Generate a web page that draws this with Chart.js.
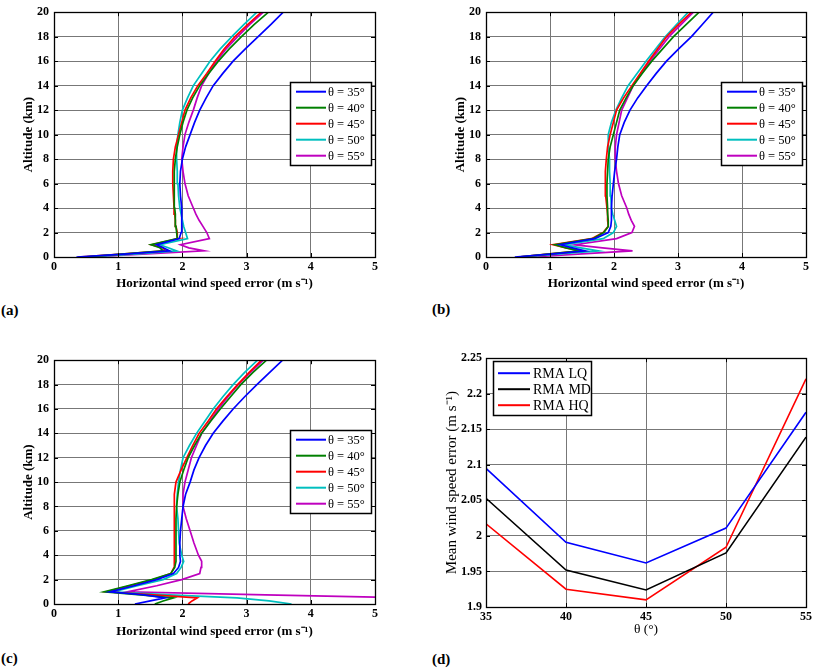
<!DOCTYPE html>
<html>
<head>
<meta charset="utf-8">
<script src="https://cdn.jsdelivr.net/npm/chart.js@4.4.1/dist/chart.umd.min.js"></script>
<style>
  body { margin: 0; background: #fff; }
  #wrap { position: relative; width: 815px; height: 668px; overflow: hidden; background: #fff; }
  canvas { position: absolute; }
  .tag { position: absolute; font: bold 15px 'Liberation Serif', serif; color: #000; }
</style>
</head>
<body>
<div id="wrap">
  <canvas id="cA" width="400" height="300" style="left:0;top:0"></canvas>
  <canvas id="cB" width="383" height="300" style="left:432px;top:0"></canvas>
  <canvas id="cC" width="400" height="300" style="left:0;top:348px"></canvas>
  <canvas id="cD" width="383" height="300" style="left:432px;top:347px"></canvas>
  <div class="tag" style="left:1px;top:302px">(a)</div>
  <div class="tag" style="left:432px;top:301px">(b)</div>
  <div class="tag" style="left:1px;top:650px">(c)</div>
  <div class="tag" style="left:432px;top:651px">(d)</div>
</div>
<script>
// altitude levels (km) shared by all profile panels
var altitudes = [0, 0.25, 0.5, 0.75, 1, 1.5, 2, 2.5, 3, 3.5, 4, 5, 6, 7, 8, 9, 10, 11, 12, 13, 14, 15, 16, 17, 18, 19, 20];
var angleLabels = ['\u03b8 = 35\u00b0', '\u03b8 = 40\u00b0', '\u03b8 = 45\u00b0', '\u03b8 = 50\u00b0', '\u03b8 = 55\u00b0'];

// panel (a) horizontal wind speed error (m/s)
var a35 = [0.35, 1.15, 1.80, 1.70, 1.60, 1.95, 1.98, 1.99, 1.99, 1.99, 1.99, 1.97, 1.96, 1.97, 2.00, 2.05, 2.12, 2.19, 2.27, 2.37, 2.48, 2.63, 2.79, 2.98, 3.18, 3.38, 3.57];
var a40 = [0.45, 1.10, 1.70, 1.65, 1.51, 1.92, 1.91, 1.90, 1.89, 1.89, 1.88, 1.87, 1.87, 1.88, 1.89, 1.92, 1.96, 2.01, 2.07, 2.16, 2.27, 2.41, 2.56, 2.73, 2.92, 3.12, 3.34];
var a45 = [0.38, 1.10, 1.73, 1.70, 1.52, 1.93, 1.92, 1.90, 1.89, 1.88, 1.87, 1.86, 1.85, 1.85, 1.86, 1.89, 1.94, 1.99, 2.04, 2.13, 2.24, 2.38, 2.51, 2.65, 2.82, 3.02, 3.23];
var a50 = [0.50, 1.30, 1.91, 1.78, 1.65, 2.08, 2.05, 2.02, 2.00, 1.98, 1.96, 1.94, 1.93, 1.92, 1.91, 1.91, 1.93, 1.96, 2.00, 2.08, 2.17, 2.30, 2.43, 2.59, 2.77, 2.96, 3.16];
var a55 = [0.55, 1.45, 2.34, 2.10, 1.97, 2.42, 2.38, 2.32, 2.26, 2.21, 2.17, 2.09, 2.04, 2.01, 1.99, 2.01, 2.04, 2.10, 2.17, 2.23, 2.30, 2.41, 2.53, 2.68, 2.86, 3.05, 3.26];

// panel (b)
var b35 = [0.45, 1.05, 1.55, 1.35, 1.16, 1.70, 1.91, 1.95, 1.96, 1.96, 1.96, 1.97, 1.99, 2.01, 2.04, 2.06, 2.09, 2.16, 2.25, 2.37, 2.51, 2.66, 2.82, 3.01, 3.21, 3.38, 3.55];
var b40 = [0.50, 1.00, 1.47, 1.25, 1.08, 1.67, 1.84, 1.91, 1.91, 1.90, 1.90, 1.89, 1.89, 1.90, 1.91, 1.94, 1.99, 2.04, 2.09, 2.19, 2.30, 2.44, 2.59, 2.76, 2.93, 3.13, 3.33];
var b45 = [0.50, 1.00, 1.49, 1.25, 1.05, 1.65, 1.83, 1.91, 1.90, 1.90, 1.89, 1.87, 1.86, 1.87, 1.88, 1.90, 1.94, 1.99, 2.04, 2.15, 2.28, 2.41, 2.54, 2.68, 2.82, 3.01, 3.21];
var b50 = [0.55, 1.15, 1.76, 1.48, 1.23, 1.83, 1.99, 2.04, 2.01, 1.98, 1.96, 1.95, 1.94, 1.93, 1.93, 1.91, 1.91, 1.96, 2.03, 2.12, 2.22, 2.36, 2.50, 2.65, 2.80, 2.98, 3.16];
var b55 = [0.70, 1.50, 2.29, 1.82, 1.39, 2.04, 2.28, 2.32, 2.27, 2.23, 2.20, 2.12, 2.07, 2.04, 2.02, 2.02, 2.04, 2.08, 2.12, 2.21, 2.30, 2.43, 2.56, 2.71, 2.86, 3.05, 3.24];

// panel (c)
var c35 = [1.26, 1.50, 1.73, 1.40, 0.87, 1.25, 1.60, 1.86, 1.94, 1.97, 1.96, 1.96, 1.97, 1.99, 2.01, 2.05, 2.12, 2.18, 2.26, 2.36, 2.48, 2.63, 2.79, 2.97, 3.16, 3.36, 3.56];
var c40 = [1.57, 1.70, 1.86, 1.35, 0.78, 1.15, 1.52, 1.82, 1.88, 1.90, 1.90, 1.90, 1.90, 1.90, 1.91, 1.93, 1.96, 2.02, 2.09, 2.19, 2.30, 2.44, 2.59, 2.75, 2.91, 3.10, 3.31];
var c45 = [2.09, 2.15, 2.23, 1.55, 0.82, 1.18, 1.55, 1.82, 1.87, 1.88, 1.88, 1.87, 1.87, 1.87, 1.87, 1.88, 1.90, 1.98, 2.07, 2.16, 2.26, 2.40, 2.53, 2.69, 2.86, 3.04, 3.23];
var c50 = [3.70, 3.35, 2.85, 1.80, 0.92, 1.30, 1.70, 1.91, 1.98, 2.02, 1.99, 1.95, 1.94, 1.93, 1.91, 1.92, 1.94, 1.97, 2.01, 2.11, 2.22, 2.35, 2.48, 2.63, 2.79, 2.97, 3.17];
var c55 = [6.00, 5.80, 5.50, 3.30, 1.14, 1.60, 1.99, 2.27, 2.29, 2.30, 2.25, 2.18, 2.12, 2.06, 2.01, 2.01, 2.04, 2.09, 2.14, 2.22, 2.30, 2.43, 2.56, 2.71, 2.87, 3.06, 3.26];

// panel (d) mean wind speed error vs elevation angle
var thetas = [35, 40, 45, 50, 55];
var rmaLQ = [2.095, 1.991, 1.962, 2.011, 2.174];
var rmaMD = [2.053, 1.952, 1.924, 1.976, 2.139];
var rmaHQ = [2.017, 1.925, 1.910, 1.984, 2.221];
var yTicksD = [1.9, 1.95, 2, 2.05, 2.1, 2.15, 2.2, 2.25];

var angleColors = ['#0000ff', '#008000', '#ff0000', '#00bfbf', '#bf00bf'];
var SERIF = "'Liberation Serif', serif";

Chart.defaults.font.family = SERIF;
Chart.defaults.color = '#000';

// box, inward tick marks and legend, MATLAB style
var framePlugin = {
    id: 'frame',
    afterDraw: function (chart, args, o) {
        var ctx = chart.ctx, a = chart.chartArea, sx = chart.scales.x, sy = chart.scales.y;
        ctx.save();
        ctx.strokeStyle = '#000';
        ctx.lineWidth = 1;
        ctx.beginPath();
        sx.ticks.forEach(function (t) {
            var p = Math.round(sx.getPixelForValue(t.value)) + 0.5;
            ctx.moveTo(p, a.bottom); ctx.lineTo(p, a.bottom - 4);
            ctx.moveTo(p, a.top); ctx.lineTo(p, a.top + 4);
        });
        sy.ticks.forEach(function (t) {
            var p = Math.round(sy.getPixelForValue(t.value)) + 0.5;
            ctx.moveTo(a.left, p); ctx.lineTo(a.left + 4, p);
            ctx.moveTo(a.right, p); ctx.lineTo(a.right - 4, p);
        });
        ctx.stroke();
        ctx.lineWidth = 1.3;
        ctx.strokeRect(Math.round(a.left) + 0.5, Math.round(a.top) + 0.5, Math.round(a.right - a.left), Math.round(a.bottom - a.top));

        // legend
        var bx = o.align === 'right' ? a.right - o.inset - o.w : a.left + o.inset;
        var by = a.top + o.top;
        ctx.fillStyle = '#fff';
        ctx.fillRect(bx, by, o.w, o.h);
        ctx.lineWidth = 1.5;
        ctx.strokeRect(Math.round(bx) + 0.5, Math.round(by) + 0.5, o.w, o.h);
        ctx.font = o.font;
        ctx.textBaseline = 'middle';
        ctx.textAlign = 'left';
        chart.data.datasets.forEach(function (ds, i) {
            var yy = by + o.pad + o.rowH * (i + 0.5);
            ctx.strokeStyle = ds.borderColor;
            ctx.lineWidth = 2;
            ctx.beginPath();
            ctx.moveTo(bx + o.lineX, yy);
            ctx.lineTo(bx + o.lineX + o.lineLen, yy);
            ctx.stroke();
            ctx.fillStyle = '#000';
            ctx.fillText(ds.label, bx + o.textX, yy + 1);
        });
        ctx.restore();
    }
};

function gridOpts() {
    return { color: '#777', lineWidth: 1, borderDash: [1, 2], drawTicks: false };
}

function makeProfile(id, series, pad, xH) {
    var datasets = series.map(function (vals, i) {
        return {
            label: angleLabels[i],
            data: altitudes.map(function (h, k) { return { x: vals[k], y: h }; }),
            borderColor: angleColors[i],
            backgroundColor: angleColors[i],
            borderWidth: 1.7,
            showLine: true,
            pointRadius: 0,
            tension: 0
        };
    });
    return new Chart(document.getElementById(id), {
        type: 'scatter',
        data: { datasets: datasets },
        plugins: [framePlugin],
        options: {
            responsive: false,
            animation: false,
            layout: { padding: pad },
            plugins: {
                legend: { display: false },
                tooltip: { enabled: false },
                frame: { align: 'right', inset: 4, top: 70, w: 81, h: 83, pad: 1.5, rowH: 16, lineX: 6, lineLen: 30, textX: 38, font: '12.5px ' + SERIF }
            },
            scales: {
                x: {
                    type: 'linear', min: 0, max: 5,
                    ticks: { stepSize: 1, padding: 3, maxRotation: 0, autoSkip: false, font: { size: 12, weight: 'bold' } },
                    grid: gridOpts(),
                    border: { display: false },
                    title: { display: true, text: 'Horizontal wind speed error (m s\u207b\u00b9)', font: { size: 13, weight: 'bold' }, padding: { top: 0, bottom: 2 } },
                    afterFit: function (s) { s.height = xH; }
                },
                y: {
                    type: 'linear', min: 0, max: 20,
                    ticks: { stepSize: 2, padding: 5, font: { size: 12, weight: 'bold' } },
                    grid: gridOpts(),
                    border: { display: false },
                    title: { display: true, text: 'Altitude (km)', font: { size: 13, weight: 'bold' }, padding: { top: 21, bottom: 0 } },
                    afterFit: function (s) { s.width = 54; }
                }
            }
        }
    });
}

makeProfile('cA', [a35, a40, a45, a50, a55], { left: 0, top: 5, right: 25, bottom: 7 }, 36);
makeProfile('cB', [b35, b40, b45, b50, b55], { left: 0, top: 5, right: 9, bottom: 7 }, 36);
makeProfile('cC', [c35, c40, c45, c50, c55], { left: 0, top: 5, right: 25, bottom: 7 }, 37);

// panel (d)
var rmaSeries = [
    { label: 'RMA LQ', vals: rmaLQ, color: '#0000ff' },
    { label: 'RMA MD', vals: rmaMD, color: '#000000' },
    { label: 'RMA HQ', vals: rmaHQ, color: '#ff0000' }
];
new Chart(document.getElementById('cD'), {
    type: 'scatter',
    data: {
        datasets: rmaSeries.map(function (s) {
            return {
                label: s.label,
                data: thetas.map(function (t, k) { return { x: t, y: s.vals[k] }; }),
                borderColor: s.color,
                backgroundColor: s.color,
                borderWidth: 1.6,
                showLine: true,
                pointRadius: 0
            };
        })
    },
    plugins: [framePlugin],
    options: {
        responsive: false,
        animation: false,
        layout: { padding: { left: 0, top: 5, right: 7, bottom: 7 } },
        plugins: {
            legend: { display: false },
            tooltip: { enabled: false },
            frame: { align: 'left', inset: 7, top: 3, w: 98, h: 54, pad: 4, rowH: 16, lineX: 5, lineLen: 32, textX: 40, font: '14px ' + SERIF }
        },
        scales: {
            x: {
                type: 'linear', min: 35, max: 55,
                ticks: { stepSize: 5, padding: 3, maxRotation: 0, autoSkip: false, font: { size: 12, weight: 'bold' } },
                grid: gridOpts(),
                border: { display: false },
                title: { display: true, text: '\u03b8 (\u00b0)', font: { size: 13.5 }, padding: { top: 0, bottom: 2 } },
                afterFit: function (s) { s.height = 33; }
            },
            y: {
                type: 'linear', min: 1.9, max: 2.25,
                afterBuildTicks: function (s) { s.ticks = yTicksD.map(function (v) { return { value: v }; }); },
                ticks: {
                    padding: 4,
                    font: { size: 12, weight: 'bold' },
                    callback: function (v) { return String(+Number(v).toFixed(2)); }
                },
                grid: gridOpts(),
                border: { display: false },
                title: { display: true, text: 'Mean wind speed error (m s\u207b\u00b9)', font: { size: 15 }, padding: { top: 11, bottom: 0 } },
                afterFit: function (s) { s.width = 54; }
            }
        }
    }
});
</script>
</body>
</html>
